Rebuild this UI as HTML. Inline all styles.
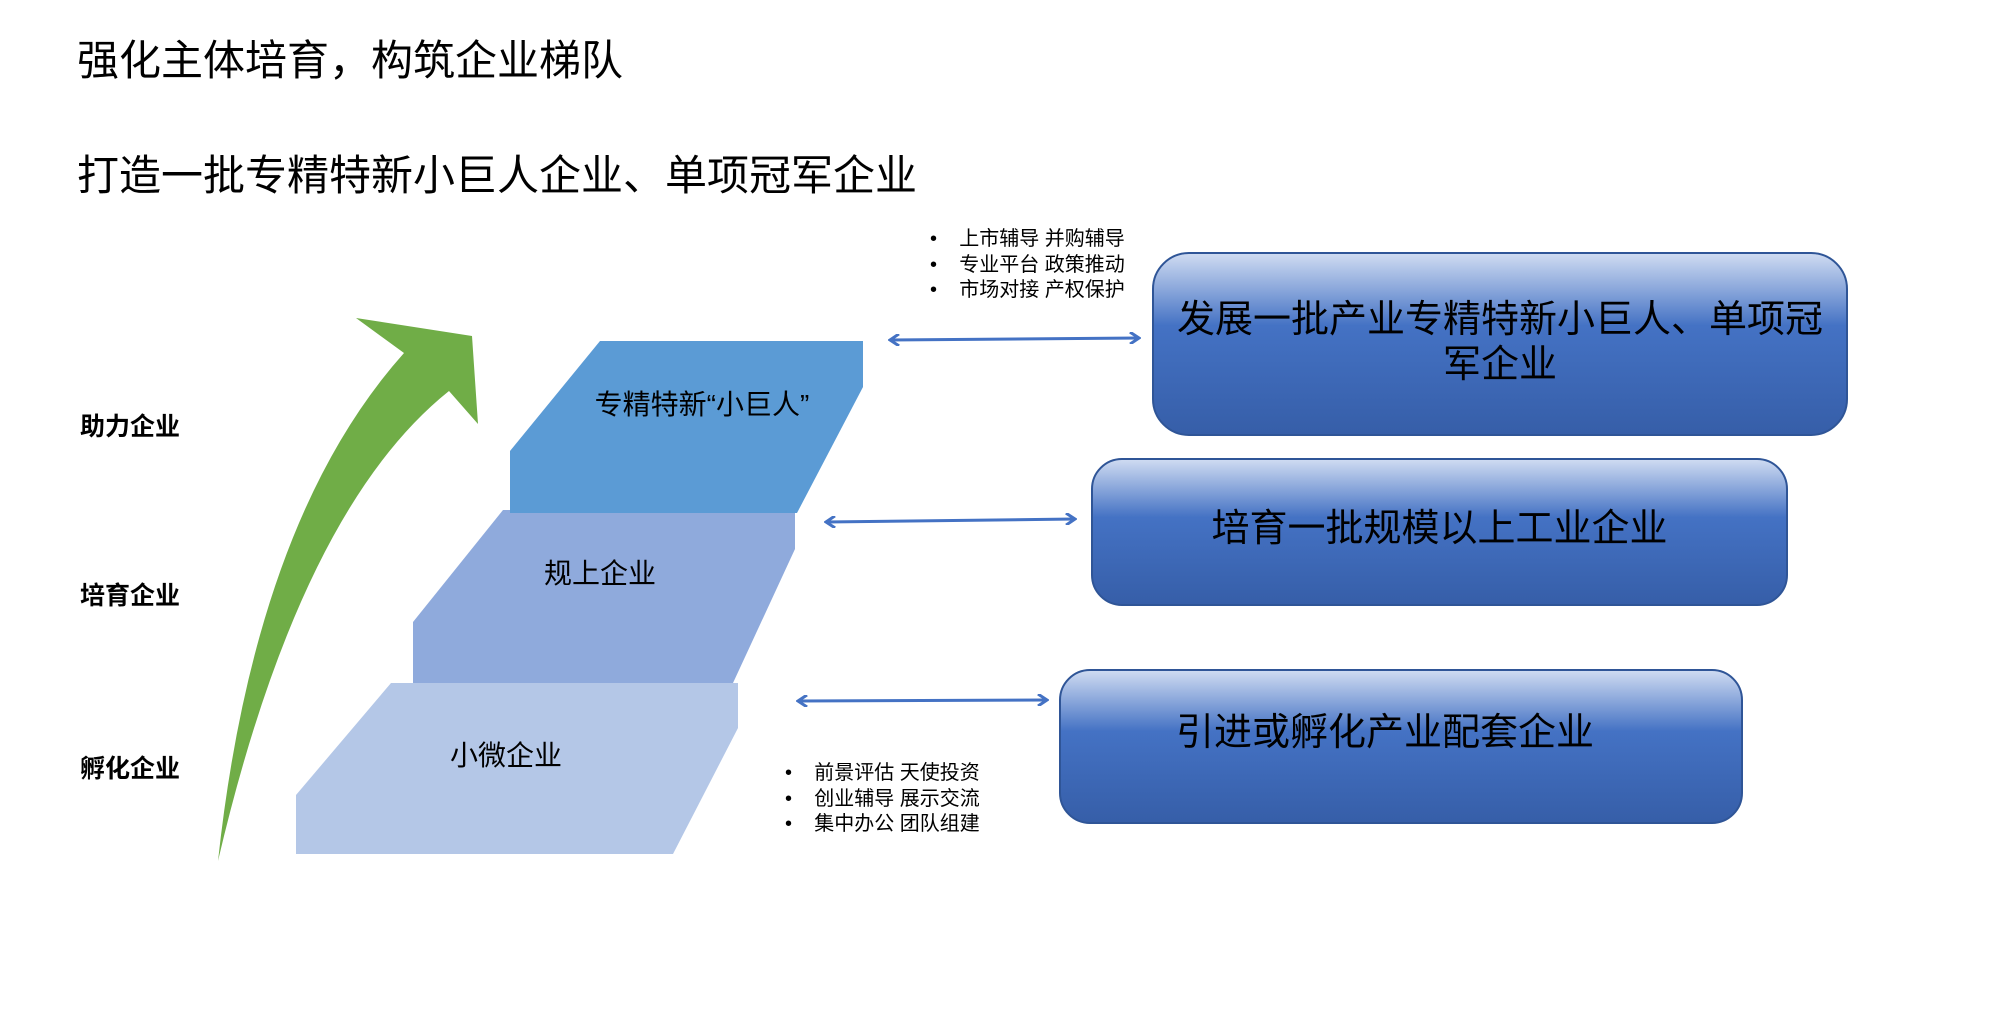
<!DOCTYPE html>
<html><head><meta charset="utf-8"><style>
body{margin:0;width:2000px;height:1016px;background:#fff;position:relative;overflow:hidden;font-family:"Liberation Sans","Noto Sans CJK SC",sans-serif;color:#000}
.t{position:absolute;white-space:nowrap;line-height:1}
</style></head><body>
<div class="t" style="left:77px;top:40px;font-size:42px">强化主体培育，构筑企业梯队</div>
<div class="t" style="left:77px;top:155px;font-size:42px">打造一批专精特新小巨人企业、单项冠军企业</div>
<div class="t" style="left:80px;top:415px;font-size:25px;font-weight:bold">助力企业</div>
<div class="t" style="left:80px;top:584px;font-size:25px;font-weight:bold">培育企业</div>
<div class="t" style="left:80px;top:757px;font-size:25px;font-weight:bold">孵化企业</div>
<svg width="2000" height="1016" style="position:absolute;left:0;top:0">
<defs>
<linearGradient id="g" x1="0" y1="0" x2="0" y2="1">
<stop offset="0" stop-color="#d0dcf2"/><stop offset="0.4" stop-color="#4472c4"/><stop offset="1" stop-color="#365ea8"/>
</linearGradient>
<marker id="ah" markerWidth="12" markerHeight="12" refX="10" refY="6" orient="auto-start-reverse" markerUnits="userSpaceOnUse"><path d="M1,0 L10,6 L1,12" fill="none" stroke="#4472c4" stroke-width="3"/></marker>
</defs>
<path d="M218,861 Q255,520 404,353 L356,318 L472,336 L478,424 L449,391 Q300,510 218,861 Z" fill="#70ad47"/>
<polygon points="296,795 391,683 738,683 738,728 673,854 296,854" fill="#b4c7e7"/>
<polygon points="413,622 503,510 795,510 795,549 733,683 413,683" fill="#8faadc"/>
<polygon points="510,451 600,341 863,341 863,387 797,513 510,513" fill="#5b9bd5"/>
<line x1="890" y1="340" x2="1139" y2="338" stroke="#4472c4" stroke-width="3" marker-start="url(#ah)" marker-end="url(#ah)"/>
<line x1="826" y1="522" x2="1075" y2="519" stroke="#4472c4" stroke-width="3" marker-start="url(#ah)" marker-end="url(#ah)"/>
<line x1="798" y1="701" x2="1047" y2="700" stroke="#4472c4" stroke-width="3" marker-start="url(#ah)" marker-end="url(#ah)"/>
<rect x="1153" y="253" width="694" height="182" rx="36" fill="url(#g)" stroke="#2f5597" stroke-width="2"/>
<rect x="1092" y="459" width="695" height="146" rx="30" fill="url(#g)" stroke="#2f5597" stroke-width="2"/>
<rect x="1060" y="670" width="682" height="153" rx="30" fill="url(#g)" stroke="#2f5597" stroke-width="2"/>
</svg>
<div class="t" style="left:590px;top:391px;font-size:28px;width:224px;text-align:center">专精特新“小巨人”</div>
<div class="t" style="left:520px;top:560px;font-size:28px;width:160px;text-align:center">规上企业</div>
<div class="t" style="left:426px;top:742px;font-size:28px;width:160px;text-align:center">小微企业</div>
<div class="t" style="left:1160px;top:298px;font-size:38px;width:680px;text-align:center;line-height:45px;white-space:normal">发展一批产业专精特新小巨人、单项冠军企业</div>
<div class="t" style="left:1092px;top:510px;font-size:38px;width:695px;text-align:center">培育一批规模以上工业企业</div>
<div class="t" style="left:1060px;top:714px;font-size:38px;width:650px;text-align:center">引进或孵化产业配套企业</div>
<div class="t" style="left:930px;top:227px;font-size:20px;line-height:25.5px">•&nbsp;&nbsp;&nbsp;&nbsp;上市辅导 并购辅导<br>•&nbsp;&nbsp;&nbsp;&nbsp;专业平台 政策推动<br>•&nbsp;&nbsp;&nbsp;&nbsp;市场对接 产权保护</div>
<div class="t" style="left:785px;top:761px;font-size:20px;line-height:25.5px">•&nbsp;&nbsp;&nbsp;&nbsp;前景评估 天使投资<br>•&nbsp;&nbsp;&nbsp;&nbsp;创业辅导 展示交流<br>•&nbsp;&nbsp;&nbsp;&nbsp;集中办公 团队组建</div>
</body></html>
